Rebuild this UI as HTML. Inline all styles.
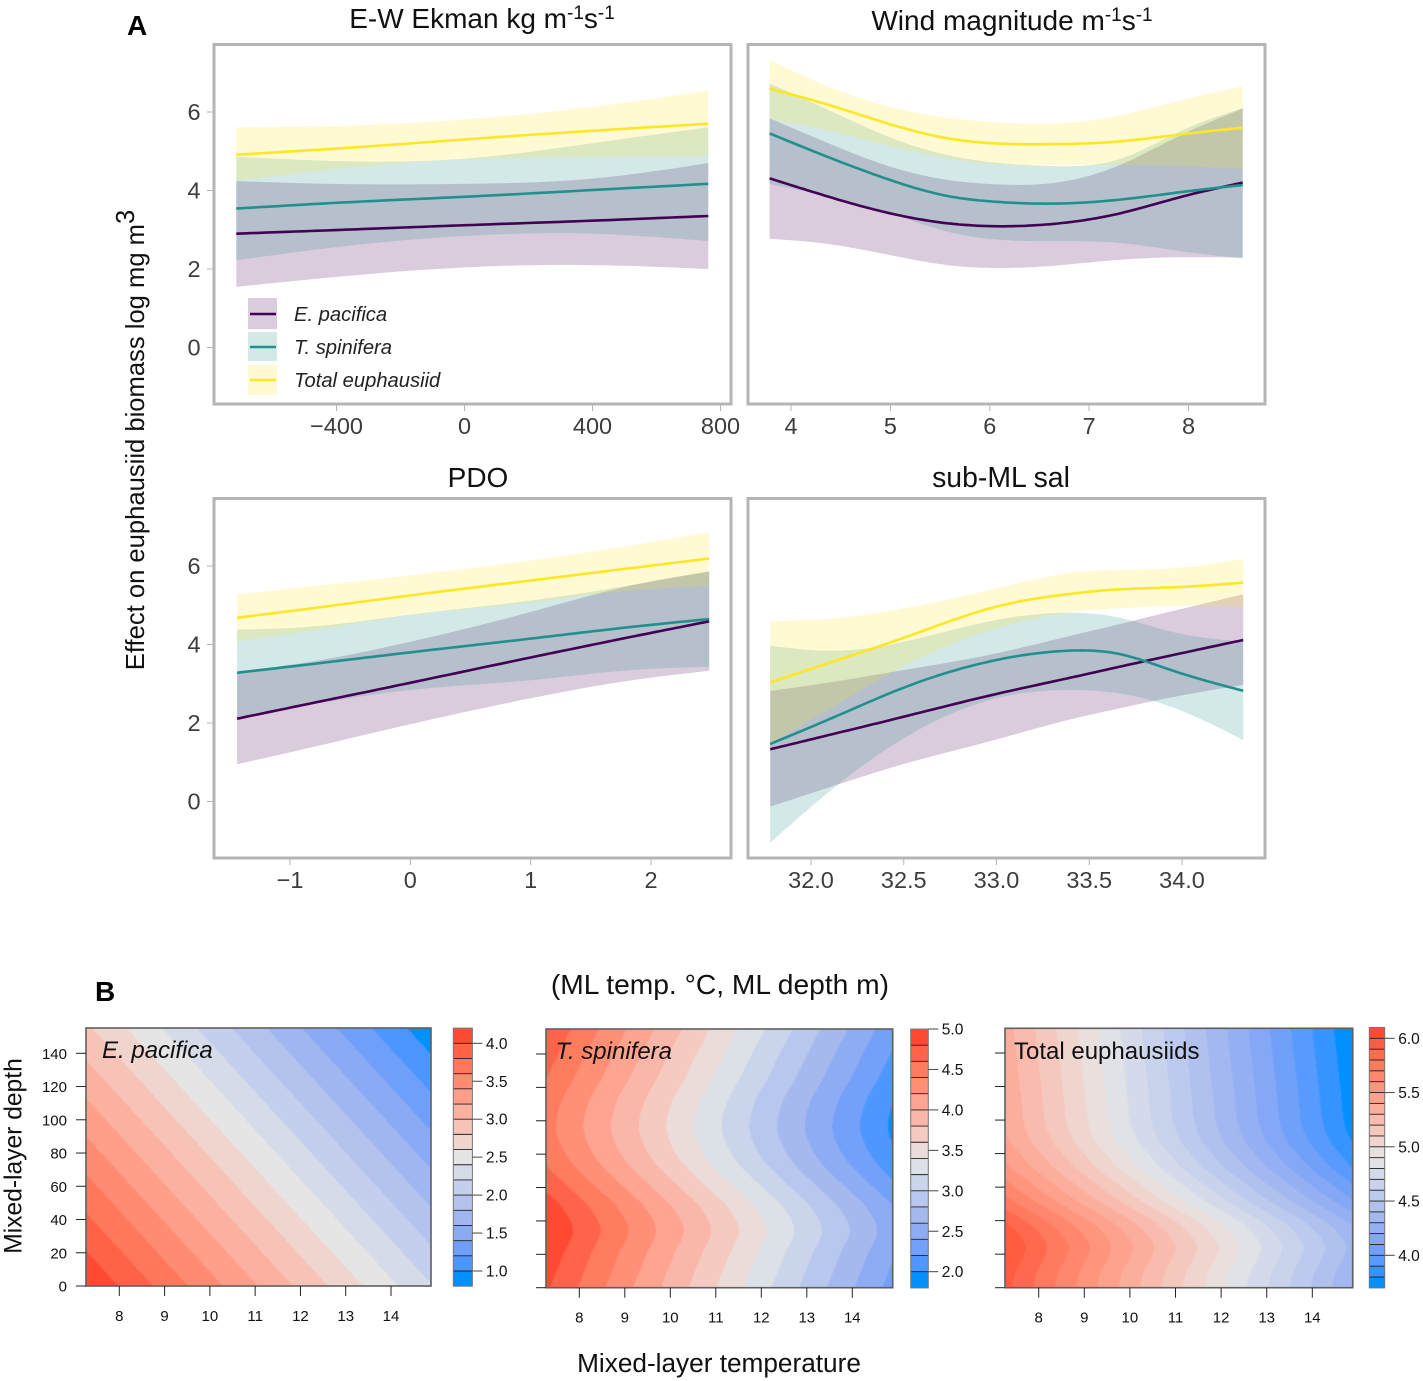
<!DOCTYPE html>
<html lang="en">
<head>
<meta charset="utf-8">
<title>Effect on euphausiid biomass</title>
<style>
html,body{margin:0;padding:0;background:#fff;}
svg{display:block;font-family:"Liberation Sans",Arial,sans-serif;}
</style>
</head>
<body>
<svg id="fig" xmlns="http://www.w3.org/2000/svg" width="1423" height="1381" viewBox="0 0 1423 1381">
  <defs>
    <filter id="soft" x="-2%" y="-2%" width="104%" height="104%"><feGaussianBlur stdDeviation="0.55"/></filter>
  </defs>
  <rect x="0" y="0" width="1423" height="1381" fill="#fff"/>
  <text x="127" y="35" font-size="28" font-weight="bold">A</text>
  <text x="95" y="1001" font-size="28" font-weight="bold">B</text>
  <text x="482" y="28" font-size="28" text-anchor="middle" fill="#111">E-W Ekman kg m<tspan dy="-9" font-size="19">-1</tspan><tspan dy="9">s</tspan><tspan dy="-9" font-size="19">-1</tspan></text>
  <text x="1012" y="30" font-size="28" text-anchor="middle" fill="#111">Wind magnitude m<tspan dy="-9" font-size="19">-1</tspan><tspan dy="9">s</tspan><tspan dy="-9" font-size="19">-1</tspan></text>
  <text x="478" y="487" font-size="28" text-anchor="middle" fill="#111">PDO</text>
  <text x="1001" y="487" font-size="28.4" text-anchor="middle" fill="#111">sub-ML sal</text>
  <text transform="translate(144,440) rotate(-90)" font-size="25.6" text-anchor="middle" fill="#111">Effect on euphausiid biomass log mg m<tspan dy="-10">3</tspan></text>
  <text x="720" y="994" font-size="28.2" text-anchor="middle" fill="#111">(ML temp. °C, ML depth m)</text>
  <text x="719" y="1372" font-size="26.2" text-anchor="middle" fill="#111">Mixed-layer temperature</text>
  <text transform="translate(21.5,1156) rotate(-90)" font-size="24.6" text-anchor="middle" fill="#111">Mixed-layer depth</text>
  <g id="gam"></g>
  <g id="contours"></g>
  <g>
    <rect x="248" y="298" width="29" height="31" fill="#440154" fill-opacity="0.2"/>
    <line x1="250" x2="276" y1="314" y2="314" stroke="#440154" stroke-width="2.5"/>
    <text x="294" y="321" font-size="20.2" font-style="italic" fill="#222">E. pacifica</text>
    <rect x="248" y="332" width="29" height="29" fill="#21908c" fill-opacity="0.2"/>
    <line x1="250" x2="276" y1="347" y2="347" stroke="#21908c" stroke-width="2.5"/>
    <text x="294" y="354" font-size="20.2" font-style="italic" fill="#222">T. spinifera</text>
    <rect x="248" y="365" width="29" height="30" fill="#fde725" fill-opacity="0.2"/>
    <line x1="250" x2="276" y1="380" y2="380" stroke="#fde725" stroke-width="2.5"/>
    <text x="294" y="387" font-size="20.2" font-style="italic" fill="#222">Total euphausiid</text>
  </g>
</svg>
<script>
/* ---------- effect panels: values ---------- */
const effectYTicks = [0, 2, 4, 6];
const effectYTickLabels = ['0', '2', '4', '6'];

const ekmanX = [-713, -343, 0, 396, 762];
const ekmanTicks = [-400, 0, 400, 800];
const ekmanTickLabels = ['−400', '0', '400', '800'];
const ekmanPacificaFit = [2.90, 3.01, 3.115, 3.23, 3.35];
const ekmanPacificaLo = [1.545, 1.84, 2.04, 2.10, 2.00];
const ekmanPacificaHi = [4.24, 4.16, 4.17, 4.30, 4.70];
const ekmanSpiniferaFit = [3.54, 3.71, 3.84, 4.01, 4.17];
const ekmanSpiniferaLo = [2.22, 2.61, 2.84, 2.90, 2.71];
const ekmanSpiniferaHi = [4.86, 4.74, 4.81, 5.20, 5.61];
const ekmanTotalFit = [4.91, 5.10, 5.30, 5.52, 5.70];
const ekmanTotalLo = [4.24, 4.60, 4.79, 4.86, 4.87];
const ekmanTotalHi = [5.61, 5.66, 5.81, 6.13, 6.545];

const windX = [3.785, 4.38, 4.995, 5.575, 6.05, 6.6, 7.28, 7.96, 8.545];
const windTicks = [4, 5, 6, 7, 8];
const windTickLabels = ['4', '5', '6', '7', '8'];
const windPacificaFit = [4.31, 3.84, 3.42, 3.165, 3.09, 3.14, 3.40, 3.86, 4.20];
const windPacificaLo = [2.77, 2.635, 2.355, 2.10, 2.025, 2.075, 2.23, 2.30, 2.29];
const windPacificaHi = [5.84, 5.20, 4.61, 4.27, 4.16, 4.18, 4.62, 5.455, 6.085];
const windSpiniferaFit = [5.455, 4.845, 4.27, 3.86, 3.715, 3.665, 3.76, 3.97, 4.14];
const windSpiniferaLo = [4.165, 3.84, 3.42, 2.95, 2.755, 2.705, 2.67, 2.44, 2.27];
const windSpiniferaHi = [6.73, 6.05, 5.355, 4.905, 4.71, 4.625, 4.78, 5.56, 6.10];
const windTotalFit = [6.595, 6.18, 5.69, 5.33, 5.20, 5.18, 5.245, 5.44, 5.60];
const windTotalLo = [5.82, 5.525, 5.135, 4.82, 4.675, 4.64, 4.66, 4.625, 4.55];
const windTotalHi = [7.325, 6.645, 6.135, 5.855, 5.74, 5.70, 5.90, 6.32, 6.66];

const pdoX = [-1.44, -0.85, 0, 1, 1.845, 2.484];
const pdoTicks = [-1, 0, 1, 2];
const pdoTickLabels = ['−1', '0', '1', '2'];
const pdoPacificaFit = [2.11, 2.485, 3.025, 3.67, 4.20, 4.59];
const pdoPacificaLo = [0.95, 1.36, 1.97, 2.63, 3.09, 3.33];
const pdoPacificaHi = [3.305, 3.55, 4.07, 4.83, 5.51, 5.86];
const pdoSpiniferaFit = [3.28, 3.49, 3.80, 4.15, 4.45, 4.65];
const pdoSpiniferaLo = [2.16, 2.46, 2.84, 3.09, 3.35, 3.43];
const pdoSpiniferaHi = [4.38, 4.45, 4.76, 5.12, 5.52, 5.86];
const pdoTotalFit = [4.68, 4.91, 5.25, 5.63, 5.95, 6.19];
const pdoTotalLo = [4.085, 4.34, 4.75, 5.07, 5.38, 5.49];
const pdoTotalHi = [5.28, 5.47, 5.76, 6.14, 6.53, 6.86];

const salX = [31.78, 32.12, 32.5, 33.0, 33.38, 33.66, 33.94, 34.33];
const salTicks = [32, 32.5, 33, 33.5, 34];
const salTickLabels = ['32.0', '32.5', '33.0', '33.5', '34.0'];
const salPacificaFit = [1.33, 1.72, 2.16, 2.74, 3.135, 3.43, 3.72, 4.115];
const salPacificaLo = [-0.13, 0.395, 0.955, 1.58, 2.07, 2.37, 2.65, 2.97];
const salPacificaHi = [2.815, 3.05, 3.35, 3.775, 4.20, 4.515, 4.84, 5.28];
const salSpiniferaFit = [1.465, 2.14, 2.90, 3.605, 3.84, 3.76, 3.35, 2.82];
const salSpiniferaLo = [-1.05, 0.335, 1.61, 2.63, 2.84, 2.755, 2.415, 1.565];
const salSpiniferaHi = [3.97, 3.84, 4.07, 4.625, 4.81, 4.685, 4.33, 4.07];
const salTotalFit = [3.035, 3.57, 4.17, 4.965, 5.28, 5.405, 5.455, 5.575];
const salTotalLo = [1.48, 2.415, 3.45, 4.41, 4.81, 4.92, 4.98, 4.96];
const salTotalHi = [4.59, 4.665, 4.92, 5.43, 5.81, 5.90, 5.94, 6.18];

/* ---------- contour panels: rows are depths, columns are temperatures ---------- */
const tempTicks = [8, 9, 10, 11, 12, 13, 14];
const depthTicks = [0, 20, 40, 60, 80, 100, 120, 140];

const pacificaTemps = [7.265, 11.07, 14.876];
const pacificaDepths = [0, 52, 103, 155];
const pacificaZ = [
  [4.184, 3.198, 2.214],
  [3.732, 2.746, 1.762],
  [3.288, 2.302, 1.318],
  [2.835, 1.850, 0.865]
];
const pacificaBarTicks = [1.0, 1.5, 2.0, 2.5, 3.0, 3.5, 4.0];
const pacificaBarLabels = ['1.0', '1.5', '2.0', '2.5', '3.0', '3.5', '4.0'];

const spiniferaTemps = [7.268, 11.078, 14.888];
const spiniferaDepths = [0, 20, 34.5, 48.5, 57.5, 73.5, 84.5, 96.5, 112, 125, 140, 155];
const spiniferaZ = [
  [4.829, 3.576, 2.323],
  [4.925, 3.672, 2.419],
  [4.995, 3.742, 2.489],
  [4.911, 3.658, 2.405],
  [4.800, 3.547, 2.294],
  [4.600, 3.347, 2.094],
  [4.513, 3.260, 2.007],
  [4.470, 3.217, 1.964],
  [4.513, 3.260, 2.007],
  [4.600, 3.347, 2.094],
  [4.689, 3.436, 2.183],
  [4.783, 3.530, 2.277]
];
const spiniferaBarTicks = [2.0, 2.5, 3.0, 3.5, 4.0, 4.5, 5.0];
const spiniferaBarLabels = ['2.0', '2.5', '3.0', '3.5', '4.0', '4.5', '5.0'];

const totalTemps = [7.261, 11.07, 14.886];
const totalDepths = [0, 9.4, 16.5, 24.5, 32, 39.4, 47, 54.1, 63.1, 72, 79.2, 86.9, 97.7, 117.5, 137, 154.8];
const totalZ = [
  [5.933, 5.119, 4.304],
  [5.950, 5.136, 4.321],
  [5.980, 5.166, 4.351],
  [5.998, 5.184, 4.369],
  [5.965, 5.151, 4.336],
  [5.900, 5.086, 4.271],
  [5.800, 4.986, 4.171],
  [5.710, 4.896, 4.081],
  [5.615, 4.801, 3.986],
  [5.525, 4.711, 3.896],
  [5.475, 4.661, 3.846],
  [5.425, 4.611, 3.796],
  [5.390, 4.576, 3.761],
  [5.372, 4.558, 3.743],
  [5.355, 4.541, 3.726],
  [5.340, 4.526, 3.711]
];
const totalBarTicks = [4.0, 4.5, 5.0, 5.5, 6.0];
const totalBarLabels = ['4.0', '4.5', '5.0', '5.5', '6.0'];

/* ---------- helpers ---------- */
const NS = 'http://www.w3.org/2000/svg';
function make(tag, parent, attrs) {
  const el = document.createElementNS(NS, tag);
  for (const k in attrs) el.setAttribute(k, attrs[k]);
  parent.appendChild(el);
  return el;
}
function linear(v0, p0, v1, p1) {
  const f = v => p0 + (v - v0) * (p1 - p0) / (v1 - v0);
  f.inv = p => v0 + (p - p0) * (v1 - v0) / (p1 - p0);
  return f;
}
function slope(xs, ys, i) {
  if (i === 0) return (ys[1] - ys[0]) / (xs[1] - xs[0]);
  const n = xs.length - 1;
  if (i === n) return (ys[n] - ys[n - 1]) / (xs[n] - xs[n - 1]);
  return (ys[i + 1] - ys[i - 1]) / (xs[i + 1] - xs[i - 1]);
}
function curve(xs, ys, x) {
  if (x <= xs[0]) return ys[0];
  const n = xs.length - 1;
  if (x >= xs[n]) return ys[n];
  let i = 0;
  while (x > xs[i + 1]) i++;
  const h = xs[i + 1] - xs[i], t = (x - xs[i]) / h;
  const m0 = slope(xs, ys, i) * h, m1 = slope(xs, ys, i + 1) * h;
  const t2 = t * t, t3 = t2 * t;
  return (2 * t3 - 3 * t2 + 1) * ys[i] + (t3 - 2 * t2 + t) * m0 + (-2 * t3 + 3 * t2) * ys[i + 1] + (t3 - t2) * m1;
}
/* natural cubic spline through the read values, for the smooth fits and ribbons */
function spline(xs, ys) {
  const n = xs.length, a = new Array(n).fill(0), b = new Array(n).fill(1), c = new Array(n).fill(0), r = new Array(n).fill(0);
  for (let i = 1; i < n - 1; i++) {
    const h0 = xs[i] - xs[i - 1], h1 = xs[i + 1] - xs[i];
    a[i] = h0;
    b[i] = 2 * (h0 + h1);
    c[i] = h1;
    r[i] = 6 * ((ys[i + 1] - ys[i]) / h1 - (ys[i] - ys[i - 1]) / h0);
  }
  for (let i = 1; i < n; i++) {
    const m = a[i] / b[i - 1];
    b[i] -= m * c[i - 1];
    r[i] -= m * r[i - 1];
  }
  const d2 = new Array(n).fill(0);
  d2[n - 1] = r[n - 1] / b[n - 1];
  for (let i = n - 2; i >= 0; i--) d2[i] = (r[i] - c[i] * d2[i + 1]) / b[i];
  return x => {
    let i = 0;
    while (i < n - 2 && x > xs[i + 1]) i++;
    const h = xs[i + 1] - xs[i], u = (xs[i + 1] - x) / h, v = (x - xs[i]) / h;
    return u * ys[i] + v * ys[i + 1] + ((u * u * u - u) * d2[i] + (v * v * v - v) * d2[i + 1]) * h * h / 6;
  };
}
function sampleX(xs) {
  const out = [];
  for (let i = 0; i < xs.length - 1; i++) {
    for (let j = 0; j < 16; j++) out.push(xs[i] + (xs[i + 1] - xs[i]) * j / 16);
  }
  out.push(xs[xs.length - 1]);
  return out;
}

/* ---------- effect panel ---------- */
const LINE_COL = { pacifica: '#440154', spinifera: '#21908c', total: '#fde725' };
function drawEffect(cfg) {
  const root = document.getElementById('gam');
  const g = make('g', root, {});
  
  
  const sx = cfg.sx, sy = cfg.sy, fine = sampleX(cfg.xs);

  cfg.series.forEach(s => {
    const fHi = spline(cfg.xs, s.hi), fLo = spline(cfg.xs, s.lo);
    const top = fine.map(x => sx(x).toFixed(1) + ' ' + sy(fHi(x)).toFixed(1));
    const bot = fine.map(x => sx(x).toFixed(1) + ' ' + sy(fLo(x)).toFixed(1)).reverse();
    const rib = make('path', g, { d: 'M' + top.join('L') + 'L' + bot.join('L') + 'Z', fill: LINE_COL[s.key], 'fill-opacity': 0.2 });
    
    
  });
  cfg.series.forEach(s => {
    const fFit = spline(cfg.xs, s.fit);
    const pts = fine.map(x => sx(x).toFixed(1) + ' ' + sy(fFit(x)).toFixed(1));
    const ln = make('path', g, { d: 'M' + pts.join('L'), fill: 'none', stroke: LINE_COL[s.key], 'stroke-width': 2.6 });
    
    
  });

  const frame = make('rect', g, { x: cfg.left, y: cfg.top, width: cfg.right - cfg.left, height: cfg.bottom - cfg.top, fill: 'none', stroke: '#b5b5b5', 'stroke-width': 3 });
  
  

  cfg.ticks.forEach((v, i) => {
    const t = make('line', g, { x1: sx(v), x2: sx(v), y1: cfg.bottom + 1, y2: cfg.bottom + 7, stroke: '#b5b5b5', 'stroke-width': 1 });
    
    
    const lab = make('text', g, { x: sx(v), y: cfg.bottom + 30, 'text-anchor': 'middle', 'font-size': 23.5, fill: '#3d3d3d' });
    lab.textContent = cfg.labels[i];
    
    
  });
  if (cfg.yAxis) {
    effectYTicks.forEach((v, i) => {
      const t = make('line', g, { x1: cfg.left - 7, x2: cfg.left - 1, y1: sy(v), y2: sy(v), stroke: '#b5b5b5', 'stroke-width': 1 });
      
      
      const lab = make('text', g, { x: 194, y: sy(v) + 8, 'text-anchor': 'middle', 'font-size': 23.5, fill: '#3d3d3d' });
      lab.textContent = effectYTickLabels[i];
      
      
    });
  }
}

const topY = linear(0, 347.5, 6, 112);
const bottomY = linear(0, 801.5, 6, 566);

drawEffect({ id: 'ekman', xs: ekmanX, ticks: ekmanTicks, labels: ekmanTickLabels, yAxis: true,
  left: 214, right: 731, top: 44.5, bottom: 404, sx: linear(0, 464.5, 800, 720.5), sy: topY,
  series: [
    { key: 'pacifica', fit: ekmanPacificaFit, lo: ekmanPacificaLo, hi: ekmanPacificaHi },
    { key: 'spinifera', fit: ekmanSpiniferaFit, lo: ekmanSpiniferaLo, hi: ekmanSpiniferaHi },
    { key: 'total', fit: ekmanTotalFit, lo: ekmanTotalLo, hi: ekmanTotalHi }
  ] });
drawEffect({ id: 'wind', xs: windX, ticks: windTicks, labels: windTickLabels, yAxis: false,
  left: 748, right: 1265, top: 44.5, bottom: 404, sx: linear(4, 791, 8, 1188.5), sy: topY,
  series: [
    { key: 'pacifica', fit: windPacificaFit, lo: windPacificaLo, hi: windPacificaHi },
    { key: 'spinifera', fit: windSpiniferaFit, lo: windSpiniferaLo, hi: windSpiniferaHi },
    { key: 'total', fit: windTotalFit, lo: windTotalLo, hi: windTotalHi }
  ] });
drawEffect({ id: 'pdo', xs: pdoX, ticks: pdoTicks, labels: pdoTickLabels, yAxis: true,
  left: 214, right: 731, top: 498.5, bottom: 858, sx: linear(-1, 290, 2, 651), sy: bottomY,
  series: [
    { key: 'pacifica', fit: pdoPacificaFit, lo: pdoPacificaLo, hi: pdoPacificaHi },
    { key: 'spinifera', fit: pdoSpiniferaFit, lo: pdoSpiniferaLo, hi: pdoSpiniferaHi },
    { key: 'total', fit: pdoTotalFit, lo: pdoTotalLo, hi: pdoTotalHi }
  ] });
drawEffect({ id: 'salinity', xs: salX, ticks: salTicks, labels: salTickLabels, yAxis: false,
  left: 748, right: 1265, top: 498.5, bottom: 858, sx: linear(32, 811, 34, 1182), sy: bottomY,
  series: [
    { key: 'pacifica', fit: salPacificaFit, lo: salPacificaLo, hi: salPacificaHi },
    { key: 'spinifera', fit: salSpiniferaFit, lo: salSpiniferaLo, hi: salSpiniferaHi },
    { key: 'total', fit: salTotalFit, lo: salTotalLo, hi: salTotalHi }
  ] });

/* ---------- contour panel ---------- */
const rampStops = [
  [0, '#0090ff'], [0.0625, '#4b96ff'], [0.125, '#6f9ffa'], [0.1875, '#8aaaf4'], [0.25, '#a0b6f0'],
  [0.3125, '#b3c3ee'], [0.375, '#c3cfec'], [0.4375, '#d5dbe9'], [0.5, '#e5e5e5'], [0.5625, '#f0d5cf'],
  [0.625, '#f7c3b7'], [0.6875, '#fcb0a0'], [0.75, '#ff9f8a'], [0.8125, '#ff8b72'], [0.875, '#ff785c'],
  [0.9375, '#ff6347'], [1, '#ff4a33']
];
function rgb(h) { return [1, 3, 5].map(i => parseInt(h.substr(i, 2), 16)); }
function ramp(t) {
  let i = 0;
  while (i < rampStops.length - 2 && t > rampStops[i + 1][0]) i++;
  const a = rampStops[i], b = rampStops[i + 1], f = (t - a[0]) / (b[0] - a[0]);
  const ca = rgb(a[1]), cb = rgb(b[1]);
  return 'rgb(' + ca.map((c, k) => Math.round(c + (cb[k] - c) * f)).join(',') + ')';
}

function drawContour(cfg) {
  const root = document.getElementById('contours');
  const g = make('g', root, {});
  
  
  const sx = cfg.sx, sy = cfg.sy, n = cfg.bands;
  const colours = [];
  for (let i = 0; i < n; i++) colours.push(ramp(i / (n - 1)));

  const paths = colours.map(() => []);
  const X0 = Math.round(cfg.left), X1 = Math.round(cfg.right), Y0 = Math.round(cfg.top), Y1 = Math.round(cfg.bottom);
  for (let r = Y0; r < Y1; r++) {
    const d = sy.inv(r + 0.5);
    const col = cfg.temps.map((_, j) => curve(cfg.depths, cfg.z.map(row => row[j]), d));
    let runStart = X0, runBand = -1;
    for (let c = X0; c <= X1; c++) {
      let b = -2;
      if (c < X1) {
        const z = curve(cfg.temps, col, sx.inv(c + 0.5));
        b = Math.max(0, Math.min(n - 1, Math.floor((z - cfg.start) / cfg.step)));
      }
      if (b !== runBand) {
        if (runBand >= 0) paths[runBand].push('M' + runStart + ' ' + r + 'h' + (c - runStart) + 'v1h' + (runStart - c) + 'z');
        runStart = c;
        runBand = b;
      }
    }
  }
  const field = make('g', g, { filter: 'url(#soft)' });
  
  
  paths.forEach((p, i) => {
    if (!p.length) return;
    const band = make('path', field, { d: p.join(''), fill: colours[i], 'shape-rendering': 'crispEdges' });
    
    
  });

  const frame = make('rect', g, { x: cfg.left, y: cfg.top, width: cfg.right - cfg.left, height: cfg.bottom - cfg.top, fill: 'none', stroke: '#5f5f5f', 'stroke-width': 1.6 });
  
  

  tempTicks.forEach(v => {
    const t = make('line', g, { x1: sx(v), x2: sx(v), y1: cfg.bottom, y2: cfg.bottom + 10, stroke: '#222', 'stroke-width': 1 });
    
    
    const lab = make('text', g, { x: sx(v), y: cfg.bottom + 35, 'text-anchor': 'middle', 'font-size': 15, fill: '#111' });
    lab.textContent = String(v);
    
    
  });
  depthTicks.forEach(v => {
    const t = make('line', g, { x1: cfg.left - 10, x2: cfg.left, y1: sy(v), y2: sy(v), stroke: '#222', 'stroke-width': 1 });
    
    
    if (cfg.depthLabels) {
      const lab = make('text', g, { x: cfg.left - 19, y: sy(v) + 5.5, 'text-anchor': 'end', 'font-size': 15, fill: '#111' });
      lab.textContent = String(v);
      
      
    }
  });

  const by = cfg.barY;
  for (let i = 0; i < n; i++) {
    const lo = cfg.start + i * cfg.step, hi = lo + cfg.step;
    const cell = make('rect', g, { x: cfg.barLeft, y: by(hi), width: cfg.barRight - cfg.barLeft, height: by(lo) - by(hi) + 0.4, fill: colours[i] });
    
    
  }
  for (let i = 1; i < n; i++) {
    const lv = cfg.start + i * cfg.step;
    const sep = make('line', g, { x1: cfg.barLeft, x2: cfg.barRight, y1: by(lv), y2: by(lv), stroke: '#222', 'stroke-width': 0.9 });
    
    
  }
  const bf = make('rect', g, { x: cfg.barLeft, y: by(cfg.start + n * cfg.step), width: cfg.barRight - cfg.barLeft, height: by(cfg.start) - by(cfg.start + n * cfg.step), fill: 'none', stroke: '#777', 'stroke-width': 1 });
  
  
  cfg.barTicks.forEach((v, i) => {
    const t = make('line', g, { x1: cfg.barRight, x2: cfg.barRight + 10, y1: by(v), y2: by(v), stroke: '#444', 'stroke-width': 1 });
    
    
    const lab = make('text', g, { x: cfg.barRight + 13.5, y: by(v) + 5.5, 'font-size': 15.5, fill: '#111' });
    lab.textContent = cfg.barLabels[i];
    
    
  });

  const cap = make('text', g, { x: cfg.capX, y: cfg.capY, 'font-size': 24, 'font-style': cfg.capItalic ? 'italic' : 'normal', fill: '#111' });
  cap.textContent = cfg.caption;
  
  
}

drawContour({ id: 'pacifica', temps: pacificaTemps, depths: pacificaDepths, z: pacificaZ,
  left: 86, right: 431, top: 1028, bottom: 1286,
  sx: linear(8, 119.3, 14, 391), sy: linear(0, 1286, 140, 1053.3),
  start: 0.8, step: 0.2, bands: 17, depthLabels: true,
  barLeft: 453.3, barRight: 472.4, barY: linear(1, 1271, 4, 1043.3), barTicks: pacificaBarTicks, barLabels: pacificaBarLabels,
  caption: 'E. pacifica', capItalic: true, capX: 102, capY: 1058 });
drawContour({ id: 'spinifera', temps: spiniferaTemps, depths: spiniferaDepths, z: spiniferaZ,
  left: 546, right: 892.7, top: 1029, bottom: 1287.7,
  sx: linear(8, 579.3, 14, 852.3), sy: linear(0, 1287.7, 140, 1054),
  start: 1.8, step: 0.2, bands: 16, depthLabels: false,
  barLeft: 910.7, barRight: 928.3, barY: linear(2, 1271.7, 5, 1029), barTicks: spiniferaBarTicks, barLabels: spiniferaBarLabels,
  caption: 'T. spinifera', capItalic: true, capX: 555.5, capY: 1059 });
drawContour({ id: 'total', temps: totalTemps, depths: totalDepths, z: totalZ,
  left: 1005, right: 1352.7, top: 1028.3, bottom: 1287.7,
  sx: linear(8, 1038.7, 14, 1312.3), sy: linear(0, 1287.7, 140, 1053),
  start: 3.7, step: 0.1, bands: 24, depthLabels: false,
  barLeft: 1369.3, barRight: 1384.7, barY: linear(4, 1255.3, 6, 1038.3), barTicks: totalBarTicks, barLabels: totalBarLabels,
  caption: 'Total euphausiids', capItalic: false, capX: 1014, capY: 1059 });
</script>
</body>
</html>
